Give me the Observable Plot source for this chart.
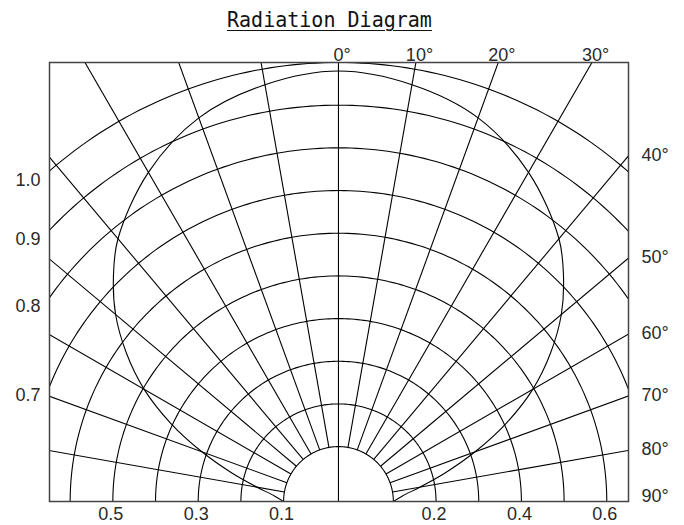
<!DOCTYPE html>
<html><head><meta charset="utf-8">
<script src="https://cdn.jsdelivr.net/npm/d3@7"></script>
<script src="https://cdn.jsdelivr.net/npm/@observablehq/plot@0.6"></script>
<style>
body{margin:0;background:#fff;}
#title{height:40px;line-height:40px;font-family:"DejaVu Sans Mono",monospace;font-size:22px;padding-left:227px;color:#111;white-space:nowrap;}
#title span{display:inline-block;transform:scaleX(0.91);transform-origin:0 50%;text-decoration:underline;text-underline-offset:3px;text-decoration-thickness:1.3px;}
#chart svg{display:block;}
</style></head><body>
<div id="title"><span>Radiation Diagram</span></div>
<div id="chart"></div>
<script>
// ---- data ----
const ringValues = [0.1, 0.2, 0.3, 0.4, 0.5, 0.6, 0.7, 0.8, 0.9, 1.0];
const spokeAngles = [-80, -70, -60, -50, -40, -30, -20, -10, 0, 10, 20, 30, 40, 50, 60, 70, 80];
const patternAngles = [0, 10, 20, 30, 40, 45, 50, 55, 60, 65, 70, 75, 80, 85, 90];
const patternValues = [0.98, 0.963, 0.928, 0.862, 0.775, 0.717, 0.653, 0.578, 0.497, 0.405, 0.312, 0.23, 0.165, 0.122, 0.1];
const topAngleLabels = [0, 10, 20, 30];
const rightAngleLabels = [40, 50, 60, 70, 80];
const cornerAngleLabels = [90];
const leftRingLabels = [0.7, 0.8, 0.9, 1.0];
const bottomLeftLabels = [0.1, 0.3, 0.5];
const bottomRightLabels = [0.2, 0.4, 0.6];

// ---- polar helpers (value -> radius with hub offset) ----
const hub = 0.0286;
const u = v => v + hub;
const rad = d => d * Math.PI / 180;
const yTop = u(1.0);
const xLeft = -0.677, xRight = 0.6795;

const ringPts = [];
for (const v of ringValues) {
  for (let a = -90; a <= 90; a += 1) ringPts.push({ring: v, x: u(v) * Math.sin(rad(a)), y: u(v) * Math.cos(rad(a))});
}
const patternPts = [];
patternAngles.slice().reverse().forEach((a, i) => {
  const v = patternValues[patternAngles.length - 1 - i];
  patternPts.push({x: -u(v) * Math.sin(rad(a)), y: u(v) * Math.cos(rad(a))});
});
patternAngles.forEach((a, i) => {
  if (a === 0) return;
  const v = patternValues[i];
  patternPts.push({x: u(v) * Math.sin(rad(a)), y: u(v) * Math.cos(rad(a))});
});

const font = {fontSize: 18, fill: "#2a2a2a"};
const chart = Plot.plot({
  width: 684, height: 485,
  marginLeft: 49, marginRight: 56, marginTop: 22, marginBottom: 24,
  x: {domain: [xLeft, xRight], axis: null},
  y: {domain: [0, yTop], axis: null},
  style: {fontFamily: "Liberation Sans, Arial, sans-serif", background: "#fff", overflow: "visible"},
  marks: [
    Plot.line(ringPts, {x: "x", y: "y", z: "ring", stroke: "#000", strokeWidth: 1.1, clip: true}),
    Plot.link(spokeAngles, {
      x1: a => a === 0 ? 0 : u(0.1) * Math.sin(rad(a)),
      y1: a => a === 0 ? 0 : u(0.1) * Math.cos(rad(a)),
      x2: a => 3 * Math.sin(rad(a)),
      y2: a => 3 * Math.cos(rad(a)),
      stroke: "#000", strokeWidth: 1.1, clip: true
    }),
    Plot.line(patternPts, {x: "x", y: "y", curve: "catmull-rom", stroke: "#000", strokeWidth: 1.1, clip: true}),
    Plot.frame({stroke: "#444", strokeWidth: 1.5}),
    Plot.text(topAngleLabels, {x: a => yTop * Math.tan(rad(a)), y: yTop, text: a => a + "°", lineAnchor: "bottom", textAnchor: "middle", dx: 3.6, dy: -2, ...font}),
    Plot.text(rightAngleLabels, {x: xRight, y: a => xRight / Math.tan(rad(a)), text: a => a + "°", textAnchor: "start", dx: 13, dy: -1, ...font}),
    Plot.text(cornerAngleLabels, {x: xRight, y: 0, text: a => a + "°", textAnchor: "start", dx: 13, dy: -5.5, ...font}),
    Plot.text(leftRingLabels, {x: xLeft, y: v => Math.sqrt(u(v) ** 2 - xLeft ** 2), text: v => v.toFixed(1), textAnchor: "end", dx: -9, dy: 9, ...font}),
    Plot.text(bottomLeftLabels, {x: v => -u(v), y: 0, text: v => v.toFixed(1), lineAnchor: "top", textAnchor: "middle", dx: -2, dy: 6, ...font}),
    Plot.text(bottomRightLabels, {x: v => u(v), y: 0, text: v => v.toFixed(1), lineAnchor: "top", textAnchor: "middle", dx: -2, dy: 6, ...font})
  ]
});
document.getElementById("chart").appendChild(chart);
</script>
</body></html>
